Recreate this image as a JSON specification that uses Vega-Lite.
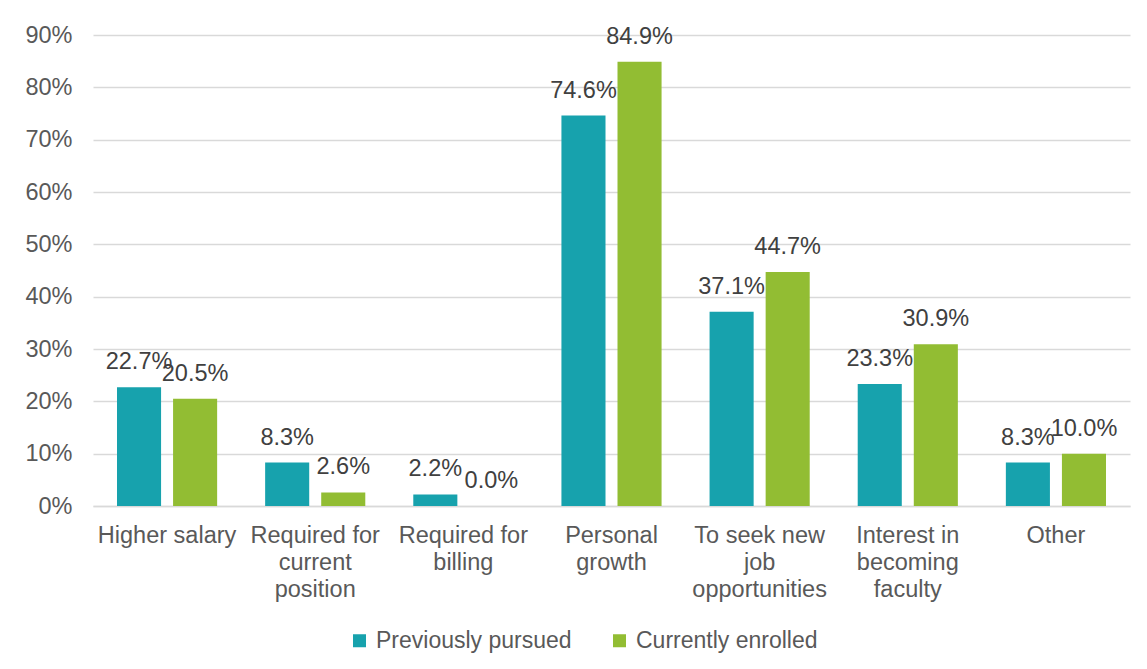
{
  "$schema": "https://vega.github.io/schema/vega-lite/v6.json",
  "autosize": "none",
  "padding": {"left": 93, "top": 35, "right": 17, "bottom": 163},
  "width": 1037,
  "height": 471,
  "background": "#ffffff",
  "config": {
    "font": "Liberation Sans",
    "view": {"stroke": null},
    "axis": {"labelFont": "Liberation Sans", "labelColor": "#595959", "labelFontSize": 23.5}
  },
  "data": {
    "values": [
      {"category": "Higher salary", "series": "Previously pursued", "value": 0.227},
      {"category": "Higher salary", "series": "Currently enrolled", "value": 0.205},
      {"category": "Required for current position", "series": "Previously pursued", "value": 0.083},
      {"category": "Required for current position", "series": "Currently enrolled", "value": 0.026},
      {"category": "Required for billing", "series": "Previously pursued", "value": 0.022},
      {"category": "Required for billing", "series": "Currently enrolled", "value": 0.0},
      {"category": "Personal growth", "series": "Previously pursued", "value": 0.746},
      {"category": "Personal growth", "series": "Currently enrolled", "value": 0.849},
      {"category": "To seek new job opportunities", "series": "Previously pursued", "value": 0.371},
      {"category": "To seek new job opportunities", "series": "Currently enrolled", "value": 0.447},
      {"category": "Interest in becoming faculty", "series": "Previously pursued", "value": 0.233},
      {"category": "Interest in becoming faculty", "series": "Currently enrolled", "value": 0.309},
      {"category": "Other", "series": "Previously pursued", "value": 0.083},
      {"category": "Other", "series": "Currently enrolled", "value": 0.1}
    ]
  },
  "encoding": {
    "x": {
      "field": "category",
      "type": "nominal",
      "sort": null,
      "scale": {"paddingInner": 0.324, "paddingOuter": 0.162},
      "axis": {
        "title": null,
        "labelAngle": 0,
        "ticks": false,
        "domainColor": "#D9D9D9",
        "domainWidth": 1.3,
        "labelPadding": 17,
        "labelBaseline": "top",
        "labelLineHeight": 27,
        "labelLimit": 300,
        "labelExpr": "datum.label == 'Required for current position' ? ['Required for', 'current', 'position'] : datum.label == 'Required for billing' ? ['Required for', 'billing'] : datum.label == 'Personal growth' ? ['Personal', 'growth'] : datum.label == 'To seek new job opportunities' ? ['To seek new', 'job', 'opportunities'] : datum.label == 'Interest in becoming faculty' ? ['Interest in', 'becoming', 'faculty'] : datum.label"
      }
    },
    "xOffset": {
      "field": "series",
      "type": "nominal",
      "sort": ["Previously pursued", "Currently enrolled"],
      "scale": {"paddingInner": 0.214, "paddingOuter": 0}
    },
    "y": {
      "field": "value",
      "type": "quantitative",
      "scale": {"domain": [0, 0.9], "nice": false},
      "axis": {
        "title": null,
        "format": ".0%",
        "values": [0, 0.1, 0.2, 0.3, 0.4, 0.5, 0.6, 0.7, 0.8, 0.9],
        "domain": false,
        "ticks": false,
        "labelPadding": 21,
        "gridColor": "#D9D9D9",
        "gridWidth": 1.3
      }
    }
  },
  "layer": [
    {
      "mark": {"type": "bar"},
      "encoding": {
        "color": {
          "field": "series",
          "type": "nominal",
          "sort": ["Previously pursued", "Currently enrolled"],
          "scale": {"domain": ["Previously pursued", "Currently enrolled"], "range": ["#17A2AD", "#92BD33"]},
          "legend": {
            "title": null,
            "orient": "none",
            "legendX": 255,
            "legendY": 594,
            "direction": "horizontal",
            "symbolType": "square",
            "symbolSize": 169,
            "symbolStrokeWidth": 0,
            "labelFontSize": 23,
            "labelColor": "#595959",
            "labelFont": "Liberation Sans",
            "labelOffset": 5,
            "columnPadding": 36,
            "labelLimit": 400
          }
        }
      }
    },
    {
      "mark": {"type": "text", "baseline": "alphabetic", "dy": -18, "fontSize": 23.5, "color": "#404040", "font": "Liberation Sans"},
      "encoding": {
        "text": {"field": "value", "type": "quantitative", "format": ".1%"}
      }
    }
  ]
}
